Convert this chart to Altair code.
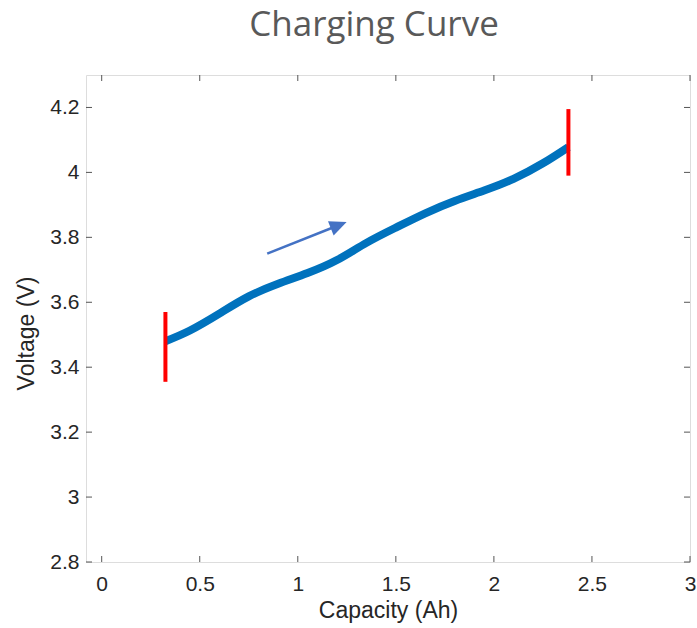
import math
import altair as alt
import pandas as pd

# Charging curve: capacity (Ah) vs voltage (V)
capacity = [0.325, 0.45, 0.60, 0.75, 0.90, 1.05, 1.20, 1.35, 1.50, 1.65, 1.80, 1.95, 2.10, 2.25, 2.38]
voltage = [3.480, 3.513, 3.565, 3.618, 3.657, 3.690, 3.730, 3.783, 3.830, 3.874, 3.912, 3.944, 3.980, 4.028, 4.078]

# Red markers at start and end of the charge
marker_x = [0.325, 2.38]
marker_lo = [3.355, 3.990]
marker_hi = [3.570, 4.195]

# Direction arrow (tail -> tip)
arrow_tail = (0.844, 3.750)
arrow_tip = (1.249, 3.847)

x_ticks = [0, 0.5, 1, 1.5, 2, 2.5, 3]
y_ticks = [2.8, 3.0, 3.2, 3.4, 3.6, 3.8, 4.0, 4.2]

TITLE = "Charging Curve"

X_DOMAIN = [-0.08, 3.0]
Y_DOMAIN = [2.8, 4.3]
W, H = 604, 487
TICK_LEN = 6
FRAME = "#555555"
TXT = "#262626"
FONT = "Liberation Sans"

xs = alt.Scale(domain=X_DOMAIN, nice=False, zero=False)
ys = alt.Scale(domain=Y_DOMAIN, nice=False, zero=False)

curve_df = pd.DataFrame({"cap": capacity, "v": voltage})
marker_df = pd.DataFrame({"x": marker_x, "lo": marker_lo, "hi": marker_hi})

# arrow geometry in pixel space for the head rotation and shaft end
sx = W / (X_DOMAIN[1] - X_DOMAIN[0])
sy = H / (Y_DOMAIN[1] - Y_DOMAIN[0])
dxp = (arrow_tip[0] - arrow_tail[0]) * sx
dyp = (arrow_tip[1] - arrow_tail[1]) * sy
length = math.hypot(dxp, dyp)
ux, uy = dxp / length, dyp / length
head_angle = (-math.degrees(math.atan2(dyp, dxp))) % 360
shaft_end = (arrow_tip[0] - 10 * ux / sx, arrow_tip[1] - 10 * uy / sy)

shaft_df = pd.DataFrame({"x": [arrow_tail[0]], "y": [arrow_tail[1]],
                         "x2": [shaft_end[0]], "y2": [shaft_end[1]]})
head_df = pd.DataFrame({"x": [arrow_tip[0]], "y": [arrow_tip[1]]})

x_axis = alt.Axis(values=x_ticks, format="~g", ticks=False, domain=False, grid=False,
                  labelFlush=False, labelFont=FONT, labelFontSize=21, labelColor=TXT,
                  labelPadding=11, title="Capacity (Ah)", titleFont=FONT, titleFontSize=23,
                  titleFontWeight="normal", titleColor=TXT, titlePadding=5)
y_axis = alt.Axis(values=y_ticks, format="~g", ticks=False, domain=False, grid=False,
                  labelFlush=False, labelFont=FONT, labelFontSize=21, labelColor=TXT,
                  labelPadding=7, title="Voltage (V)", titleFont=FONT, titleFontSize=23,
                  titleFontWeight="normal", titleColor=TXT, titlePadding=11, titleY=258)

X = lambda f: alt.X(f, scale=xs, axis=x_axis)
Y = lambda f: alt.Y(f, scale=ys, axis=y_axis)

curve = alt.Chart(curve_df).mark_line(
    color="#0072BD", strokeWidth=8, interpolate="natural", strokeCap="butt"
).encode(x=X("cap:Q"), y=Y("v:Q"))

markers = alt.Chart(marker_df).mark_rule(color="#FF0000", strokeWidth=4).encode(
    x=X("x:Q"), y=Y("lo:Q"), y2="hi:Q",
)

shaft = alt.Chart(shaft_df).mark_rule(color="#4472C4", strokeWidth=2.5).encode(
    x=X("x:Q"), y=Y("y:Q"), x2="x2:Q", y2="y2:Q",
)

head = alt.Chart(head_df).mark_point(
    shape="M0,0L-1,-0.45L-1,0.45Z", size=1156, filled=True, opacity=1,
    color="#4472C4", angle=head_angle,
).encode(x=X("x:Q"), y=Y("y:Q"))

xt_df = pd.DataFrame({"t": x_ticks})
yt_df = pd.DataFrame({"t": y_ticks})

tick_style = dict(color=FRAME, strokeWidth=1)
x_bottom = alt.Chart(xt_df).mark_rule(**tick_style).encode(
    x=X("t:Q"), y=alt.value(H), y2=alt.value(H - TICK_LEN))
x_top = alt.Chart(xt_df).mark_rule(**tick_style).encode(
    x=X("t:Q"), y=alt.value(0), y2=alt.value(TICK_LEN))
y_left = alt.Chart(yt_df).mark_rule(**tick_style).encode(
    y=Y("t:Q"), x=alt.value(0), x2=alt.value(TICK_LEN))
y_right = alt.Chart(yt_df).mark_rule(**tick_style).encode(
    y=Y("t:Q"), x=alt.value(W), x2=alt.value(W - TICK_LEN))

# chart heading, placed above the plot frame
heading = alt.Chart(pd.DataFrame({"label": [TITLE]})).mark_text(
    font="Open Sans", fontSize=35, color="#595959", align="center",
    baseline="alphabetic",
).encode(text="label:N", x=alt.value(W / 2 - 14), y=alt.value(-39))

chart = alt.layer(
    curve, markers, shaft, head, x_bottom, x_top, y_left, y_right, heading
).properties(
    width=W,
    height=H,
    autosize=alt.AutoSizeParams(type="none"),
    padding={"left": 86, "top": 75, "right": 7, "bottom": 66},
).configure_view(
    stroke=FRAME, strokeWidth=1
).configure(background="white")

chart.save("out.html", embed_options={"renderer": "svg", "actions": False})
